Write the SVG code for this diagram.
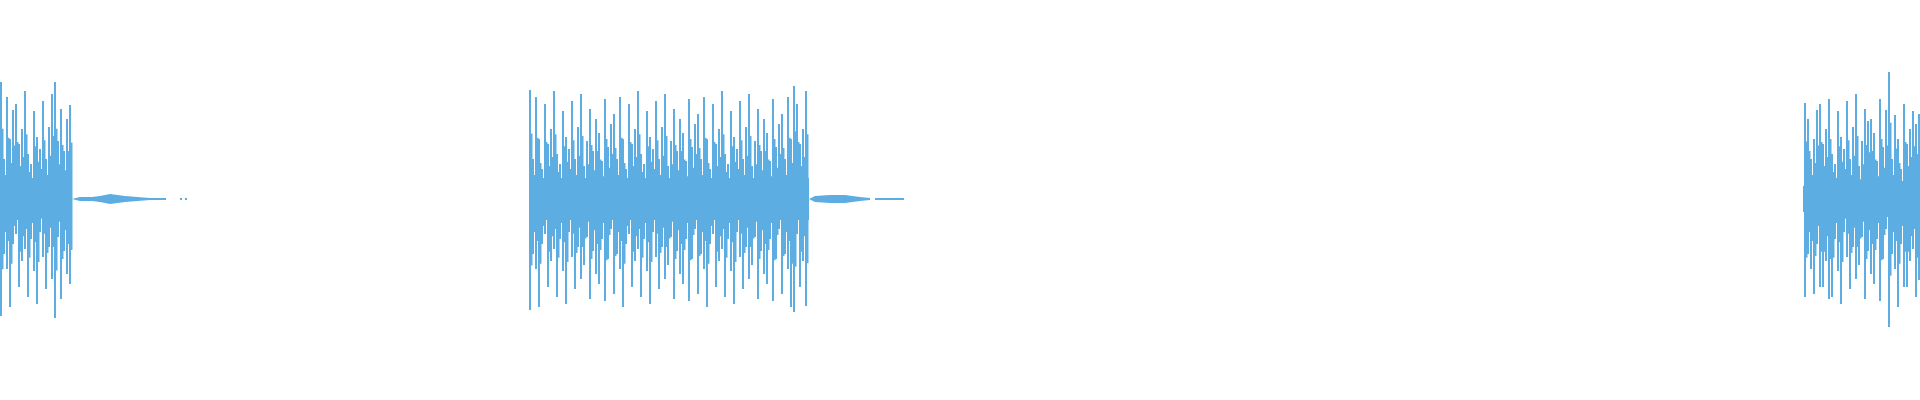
<svg xmlns="http://www.w3.org/2000/svg" width="1920" height="400" viewBox="0 0 1920 400">
<style>.w{stroke:#5dade2;stroke-width:2;fill:none}.f{fill:#5dade2}</style>
<defs>
<path id="s1" d="M1 82V316M4 159V254M7 97V269M10 139V307M13 110V244M16 104V234M19 144V287M22 129V261M25 91V249M28 154V297M31 164V239M34 111V271M37 137V304M40 149V232M43 101V257M46 159V289M49 127V247M52 94V279M55 82V318M58 141V237M61 109V299M64 151V251M67 119V274M70 105V284"/>
<path id="s2" d="M530 90V310M533 159V254M536 97V269M539 139V307M542 169V244M545 104V234M548 144V287M551 129V261M554 91V249M557 154V297M560 164V239M563 111V271M566 137V304M569 149V232M572 101V257M575 159V289M578 127V247M581 94V279M584 166V265M587 141V237M590 109V299M593 151V251M596 119V274M599 133V284M602 161V239M605 99V301M608 147V259M611 124V229M614 114V294M617 159V254M620 97V269M623 139V307M626 169V244M629 104V234M632 144V287M635 129V261M638 91V249M641 154V297M644 164V239M647 111V271M650 137V304M653 149V232M656 101V257M659 159V289M662 127V247M665 94V279M668 166V265M671 141V237M674 109V299M677 151V251M680 119V274M683 133V284M686 161V239M689 99V301M692 147V259M695 124V229M698 114V294M701 159V254M704 97V269M707 139V307M710 169V244M713 104V234M716 144V287M719 129V261M722 91V249M725 154V297M728 164V239M731 111V271M734 137V304M737 149V232M740 101V257M743 159V289M746 127V247M749 94V279M752 166V265M755 141V237M758 109V299M761 151V251M764 119V274M767 133V284M770 161V239M773 99V301M776 147V259M779 124V229M782 114V294M785 159V254M788 97V269M791 139V307M794 86V312M797 104V234M800 144V287M803 129V261M806 91V306"/>
<path id="s3" d="M1805 103V297M1808 119V254M1811 159V269M1814 139V294M1817 110V244M1820 104V287M1823 144V287M1826 129V261M1829 99V299M1832 154V297M1835 164V239M1838 111V271M1841 137V304M1844 149V232M1847 101V257M1850 159V289M1853 127V247M1856 94V279M1859 166V265M1862 141V237M1865 109V299M1868 121V251M1871 119V274M1874 133V284M1877 161V239M1880 99V301M1883 147V259M1886 110V229M1889 72V327M1892 159V254M1895 115V269M1898 139V307M1901 169V244M1904 104V287M1907 144V287M1910 129V261M1913 111V249M1916 124V297M1919 114V280"/>
</defs>
<g id="burst1">
<rect class="f" x="0" y="180" width="72" height="38"/>
<use href="#s1" class="w"/>
<use href="#s1" class="w" transform="matrix(1 0 0 0.6 1.5 79.6)"/>
<path class="f" d="M72 199L80 197L92 197L100 196L110 194L125 196L150 198L150 200L125 202L110 204L100 202L92 201L80 201Z"/>
<path class="w" d="M150 199H166M180 199H182M185 199H187"/>
</g>
<g id="burst2">
<rect class="f" x="529" y="178" width="280" height="42"/>
<use href="#s2" class="w"/>
<use href="#s2" class="w" transform="matrix(1 0 0 0.6 1.5 79.6)"/>
<path class="f" d="M809 199L815 196L830 195L845 195L860 197L870 198L870 200L860 201L845 203L830 203L815 202Z"/>
<path class="w" d="M875 199H904"/>
</g>
<g id="burst3">
<rect class="f" x="1803" y="186" width="117" height="26"/>
<use href="#s3" class="w"/>
<use href="#s3" class="w" transform="matrix(1 0 0 0.6 1.5 79.6)"/>
</g>
</svg>
